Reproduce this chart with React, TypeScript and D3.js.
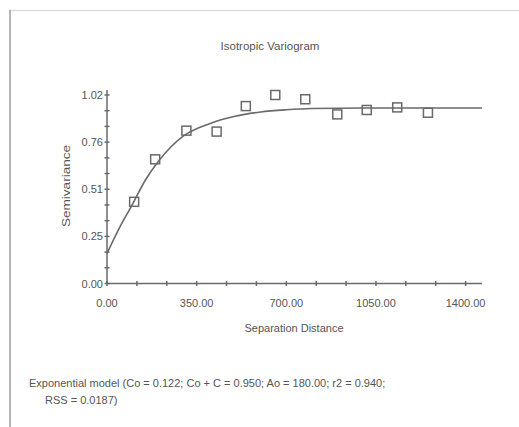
import React from "react";
import { scaleLinear, line, curveMonotoneX, range } from "d3";

const lagDistance = [106, 188, 310, 428, 542, 657, 774, 899, 1014, 1133, 1253];
const semivariance = [0.442, 0.672, 0.827, 0.822, 0.96, 1.02, 0.997, 0.915, 0.939, 0.953, 0.924];

// fitted exponential model, sampled from the drawn curve
const modelDistance = [0, 50, 100, 150, 200, 250, 300, 400, 500, 600, 700, 800, 1000, 1200, 1464];
const modelSemivariance = [0.163, 0.305, 0.43, 0.56, 0.66, 0.74, 0.8, 0.865, 0.905, 0.928, 0.94, 0.947, 0.95, 0.95, 0.95];

const xTickValues = [0, 350, 700, 1050, 1400];
const xTickLabels = ["0.00", "350.00", "700.00", "1050.00", "1400.00"];
const yTickValues = [0, 0.255, 0.51, 0.765, 1.02];
const yTickLabels = ["0.00", "0.25", "0.51", "0.76", "1.02"];

const title = "Isotropic Variogram";
const xTitle = "Separation Distance";
const yTitle = "Semivariance";
const modelNote = [
  "Exponential model (Co = 0.122; Co + C = 0.950; Ao = 180.00; r2 = 0.940;",
  "RSS = 0.0187)",
];

export default function App() {
  const width = 519;
  const height = 427;
  const left = 107;
  const right = 482;
  const top = 90;
  const bottom = 283.5;

  const xScale = scaleLinear().domain([0, 1464]).range([left, right]);
  // 1.02 sits at y=95, the axis runs a few px above it
  const yScale = scaleLinear().domain([0, 1.02]).range([bottom, 95]);

  const modelLine = line<number>()
    .x((d, i) => xScale(modelDistance[i]))
    .y(d => yScale(d))
    .curve(curveMonotoneX);

  const xMinor = range(0, 1401, 350 / 3);
  const yMinor = range(0, 1.03, 0.085);

  const ink = "#6a6a6a";
  const textColor = "#555";
  const font = "'Liberation Sans', Arial, sans-serif";

  return (
    <svg width={width} height={height} style={{ position: "absolute", left: 0, top: 0, background: "#fff" }}
         fontFamily={font}>
      {/* frame of the screenshot */}
      <line x1={9} y1={10.5} x2={width} y2={10.5} stroke="#dcdcdc" strokeWidth={1.5}/>
      <line x1={10} y1={10} x2={10} y2={height} stroke="#b4b4b4" strokeWidth={2}/>

      <text x={270} y={49.5} textAnchor="middle" fontSize={11.5} fill={textColor}>{title}</text>

      {/* axes */}
      <line x1={left} y1={top} x2={left} y2={bottom} stroke={ink} strokeWidth={1.5}/>
      <line x1={left} y1={bottom} x2={right} y2={bottom} stroke={ink} strokeWidth={1.5}/>
      {yMinor.map(v => (
        <line key={"ym" + v} x1={left - 2.5} x2={left + 2.5} y1={yScale(v)} y2={yScale(v)} stroke={ink} strokeWidth={1.5}/>
      ))}
      {xMinor.map(v => (
        <line key={"xm" + v} x1={xScale(v)} x2={xScale(v)} y1={bottom - 2.5} y2={bottom + 2.5} stroke={ink} strokeWidth={1.5}/>
      ))}
      {yTickValues.map((v, i) => (
        <text key={"yt" + v} x={103} y={yScale(v) + 4} textAnchor="end" fontSize={11} fill={textColor}>
          {yTickLabels[i]}
        </text>
      ))}
      {xTickValues.map((v, i) => (
        <text key={"xt" + v} x={xScale(v)} y={307} textAnchor="middle" fontSize={11} fill={textColor}>
          {xTickLabels[i]}
        </text>
      ))}
      <text x={294} y={332} textAnchor="middle" fontSize={11} fill={textColor}>{xTitle}</text>
      <text transform={`translate(70, 186)rotate(-90)`} textAnchor="middle" fontSize={11}
            textLength={82} lengthAdjust="spacingAndGlyphs" fill={textColor}>{yTitle}</text>

      {/* model curve */}
      <path d={modelLine(modelSemivariance) || ""} fill="none" stroke={ink} strokeWidth={1.6}/>

      {/* experimental points */}
      {semivariance.map((v, i) => (
        <rect key={"p" + i} x={xScale(lagDistance[i]) - 4.5} y={yScale(v) - 4.5} width={9} height={9}
              fill="none" stroke={ink} strokeWidth={1.5}/>
      ))}

      <text x={29} y={387} fontSize={11} fill={textColor}>{modelNote[0]}</text>
      <text x={45} y={404} fontSize={11} fill={textColor}>{modelNote[1]}</text>
    </svg>
  );
}
